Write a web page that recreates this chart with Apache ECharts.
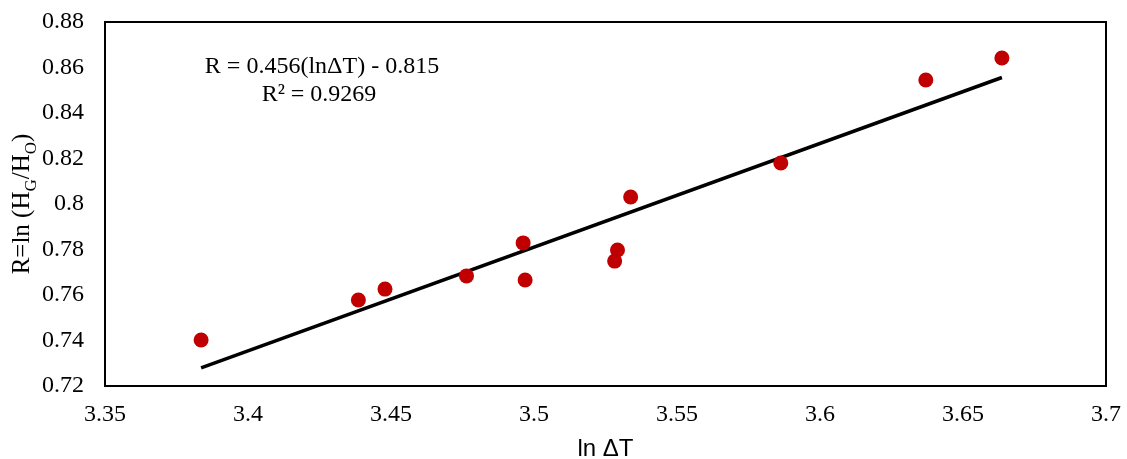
<!DOCTYPE html>
<html>
<head>
<meta charset="utf-8">
<script src="https://cdn.jsdelivr.net/npm/echarts@6/dist/echarts.min.js"></script>
<style>html,body{margin:0;padding:0;background:#fff}#c{width:1127px;height:459px}</style>
</head>
<body>
<div id="c"></div>
<script>
var lnDT = [3.3836, 3.4386, 3.4479, 3.4764, 3.4962, 3.4969, 3.5282, 3.5292, 3.5338, 3.5863, 3.6370, 3.6636];
var R = [0.7402, 0.7578, 0.7626, 0.7684, 0.7829, 0.7666, 0.7749, 0.7798, 0.8031, 0.8180, 0.8545, 0.8642];
var slope = 0.456, intercept = -0.815;
var eqText = 'R = 0.456(ln\u0394T) - 0.815';
var r2Text = 'R\u00B2 = 0.9269';

var pts = lnDT.map(function (x, i) { return [x, R[i]]; });
var xMinD = Math.min.apply(null, lnDT), xMaxD = Math.max.apply(null, lnDT);
var trend = [[xMinD, slope * xMinD + intercept], [xMaxD, slope * xMaxD + intercept]];

var chart = echarts.init(document.getElementById('c'));
var serif = 'Liberation Serif, Times New Roman, serif';
chart.setOption({
  animation: false,
  grid: { left: 105, right: 21, top: 22, bottom: 73, containLabel: false, outerBoundsMode: 'none', show: true, borderColor: '#000', borderWidth: 2, backgroundColor: 'transparent' },
  xAxis: {
    type: 'value', min: 3.35, max: 3.7, interval: 0.05,
    axisLine: { show: true, lineStyle: { color: '#000', width: 2 } },
    axisTick: { show: false }, splitLine: { show: false },
    axisLabel: { color: '#000', fontFamily: serif, fontSize: 24, margin: 17 },
    name: 'ln \u0394T', nameLocation: 'middle', nameGap: 51, nameMoveOverlap: false,
    nameTextStyle: { color: '#000', fontFamily: 'Liberation Sans, Arial, sans-serif', fontSize: 24 }
  },
  yAxis: {
    type: 'value', min: 0.72, max: 0.88, interval: 0.02,
    axisLine: { show: true, lineStyle: { color: '#000', width: 2 } },
    axisTick: { show: false }, splitLine: { show: false },
    axisLabel: { color: '#000', fontFamily: serif, fontSize: 24, margin: 21 },
    name: '{m|R=ln (H}{s|G}{m|/H}{s|O}{m|)}', nameLocation: 'middle', nameGap: 65, nameMoveOverlap: false,
    nameTextStyle: {
      color: '#000', fontFamily: serif, fontSize: 25,
      rich: {
        m: { fontFamily: serif, fontSize: 25, color: '#000', verticalAlign: 'bottom', padding: [0, 0, 5, 0], lineHeight: 32 },
        s: { fontFamily: serif, fontSize: 17, color: '#000', verticalAlign: 'bottom', lineHeight: 32 }
      }
    }
  },
  graphic: [
    { type: 'text', x: 322, y: 67, style: { text: eqText, font: '24px ' + serif, fill: '#000', textAlign: 'center', textVerticalAlign: 'middle' } },
    { type: 'text', x: 319, y: 95, style: { text: r2Text, font: '24px ' + serif, fill: '#000', textAlign: 'center', textVerticalAlign: 'middle' } }
  ],
  series: [
    { type: 'line', data: trend, symbol: 'none', lineStyle: { color: '#000', width: 3.5 }, z: 2 },
    { type: 'scatter', data: pts, symbolSize: 15, itemStyle: { color: '#C00000', opacity: 1 }, z: 3 }
  ]
});
</script>
</body>
</html>
